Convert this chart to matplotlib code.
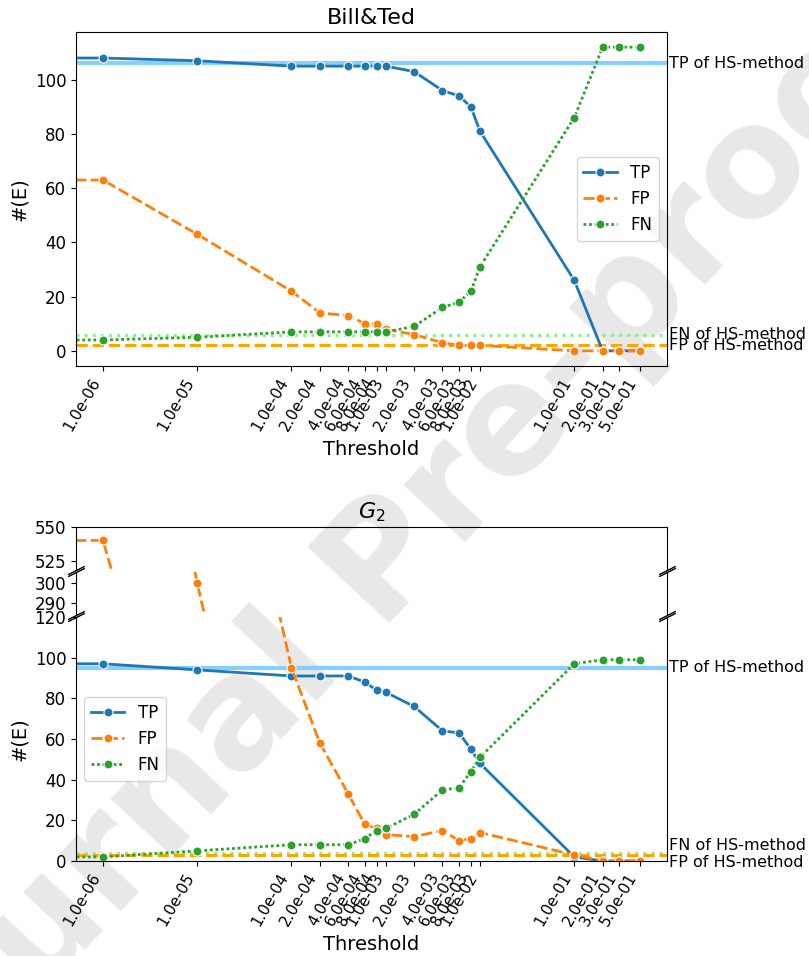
import matplotlib
matplotlib.use("Agg")
import matplotlib.pyplot as plt
from matplotlib.ticker import NullLocator, FixedLocator
import numpy as np

# thresholds (0 is the "no threshold" run; it sits off the log axis on the left)
thresholds = [0, 1e-6, 1e-5, 1e-4, 2e-4, 4e-4, 6e-4, 8e-4, 1e-3, 2e-3, 4e-3,
              6e-3, 8e-3, 1e-2, 1e-1, 2e-1, 3e-1, 5e-1]

# Bill&Ted
bt_tp = [108, 108, 107, 105, 105, 105, 105, 105, 105, 103, 96, 94, 90, 81, 26, 0, 0, 0]
bt_fp = [63, 63, 43, 22, 14, 13, 10, 10, 8, 6, 3, 2, 2, 2, 0, 0, 0, 0]
bt_fn = [4, 4, 5, 7, 7, 7, 7, 7, 7, 9, 16, 18, 22, 31, 86, 112, 112, 112]
bt_hs = {"TP": 106, "FN": 6, "FP": 2}

# G_2
g2_tp = [97, 97, 94, 91, 91, 91, 88, 84, 83, 76, 64, 63, 55, 48, 2, 0, 0, 0]
g2_fp = [540, 540, 300, 95, 58, 33, 18, 16, 13, 12, 15, 10, 11, 14, 3, 0, 0, 0]
g2_fn = [2, 2, 5, 8, 8, 8, 11, 15, 16, 23, 35, 36, 44, 51, 97, 99, 99, 99]
g2_hs = {"TP": 95, "FN": 4, "FP": 3}

g2_ranges = [(518, 550), (284, 305.5), (0, 120)]
g2_ticks = [[525, 550], [290, 300], [0, 20, 40, 60, 80, 100, 120]]

SERIES = [
    ("TP", "#1f77b4", ""),
    ("FP", "#ff7f0e", (4, 1.5)),
    ("FN", "#2ca02c", (1, 1)),
]
HS_STYLE = {
    "TP": dict(color="#87cefa", lw=3, ls="-"),
    "FN": dict(color="#90ee90", lw=2.2, ls=":"),
    "FP": dict(color="#ffa500", lw=2.2, ls="--"),
}

plt.rcParams["font.size"] = 12

fig = plt.figure(figsize=(8.09, 9.56), dpi=100)
fig.text(0.50, 0.42, "Journal Pre-proof", rotation=47, fontsize=110, fontweight="bold",
         color="#e8e8e8", ha="center", va="center", zorder=-1)

pos = [t for t in thresholds if t > 0]
lspan = np.log10(max(pos)) - np.log10(min(pos))
xlim = (min(pos) / 10 ** (0.05 * lspan), max(pos) * 10 ** (0.05 * lspan))
L, W = 0.094, 0.7305


def draw_series(ax, data):
    for (name, color, dash), vals in zip(SERIES, data):
        ax.plot(thresholds, vals, color=color, lw=2, dashes=dash if dash else (None, None),
                marker="o", ms=6.5, mec="white", mew=0.8, label=name)


def style_x(ax):
    ax.set_xscale("log")
    ax.set_xlim(*xlim)
    ax.xaxis.set_major_locator(FixedLocator(pos))
    ax.xaxis.set_minor_locator(NullLocator())
    ax.set_xticklabels([f"{t:.1e}" for t in pos], rotation=60, ha="right", fontsize=11)
    ax.set_xlabel("Threshold", fontsize=14)


def hs_lines(ax, hs, offsets):
    for key in ["TP", "FN", "FP"]:
        ax.axhline(hs[key], zorder=1, **HS_STYLE[key])
        va = offsets.get(key, "center")
        ax.text(1.003, hs[key], f"{key} of HS-method", transform=ax.get_yaxis_transform(),
                ha="left", va=va, fontsize=11.5)


# ---- top: Bill&Ted
ax1 = fig.add_axes([L, 1 - 366 / 956, W, (366 - 32) / 956])
ax1.set_facecolor("none")
hs_lines(ax1, bt_hs, {})
draw_series(ax1, [bt_tp, bt_fp, bt_fn])
style_x(ax1)
ax1.set_ylabel("#(E)", fontsize=14)
ax1.set_title("Bill&Ted", fontsize=16)
ax1.legend(loc="center right", fontsize=12)

# ---- bottom: G_2 with broken y axis
edges = [(527, 570), (572, 615), (617, 861)]
axes = []
for (top, bot), rng, tks in zip(edges, g2_ranges, g2_ticks):
    ax = fig.add_axes([L, 1 - bot / 956, W, (bot - top) / 956])
    ax.set_facecolor("none")
    axes.append(ax)
    draw_series(ax, [g2_tp, g2_fp, g2_fn])
    ax.set_xscale("log")
    ax.set_xlim(*xlim)
    ax.set_ylim(*rng)
    ax.set_yticks(tks)

a_top, a_mid, a_bot = axes
for ax in (a_top, a_mid):
    ax.xaxis.set_major_locator(NullLocator())
    ax.xaxis.set_minor_locator(NullLocator())
a_top.spines["bottom"].set_visible(False)
a_mid.spines["top"].set_visible(False)
a_mid.spines["bottom"].set_visible(False)
a_bot.spines["top"].set_visible(False)
hs_lines(a_bot, g2_hs, {"FN": "bottom", "FP": "top"})
style_x(a_bot)
a_bot.set_ylabel("#(E)", fontsize=14)
a_top.set_title("$G_2$", fontsize=16)
a_bot.legend(loc="center left", fontsize=12)

kw = dict(marker=[(-1, -0.5), (1, 0.5)], markersize=12, linestyle="none",
          color="k", mec="k", mew=1, clip_on=False)
for ax, ys in ((a_top, [0]), (a_mid, [0, 1]), (a_bot, [1])):
    for y in ys:
        ax.plot([0, 1], [y, y], transform=ax.transAxes, **kw)

fig.savefig("out.png", dpi=100)
